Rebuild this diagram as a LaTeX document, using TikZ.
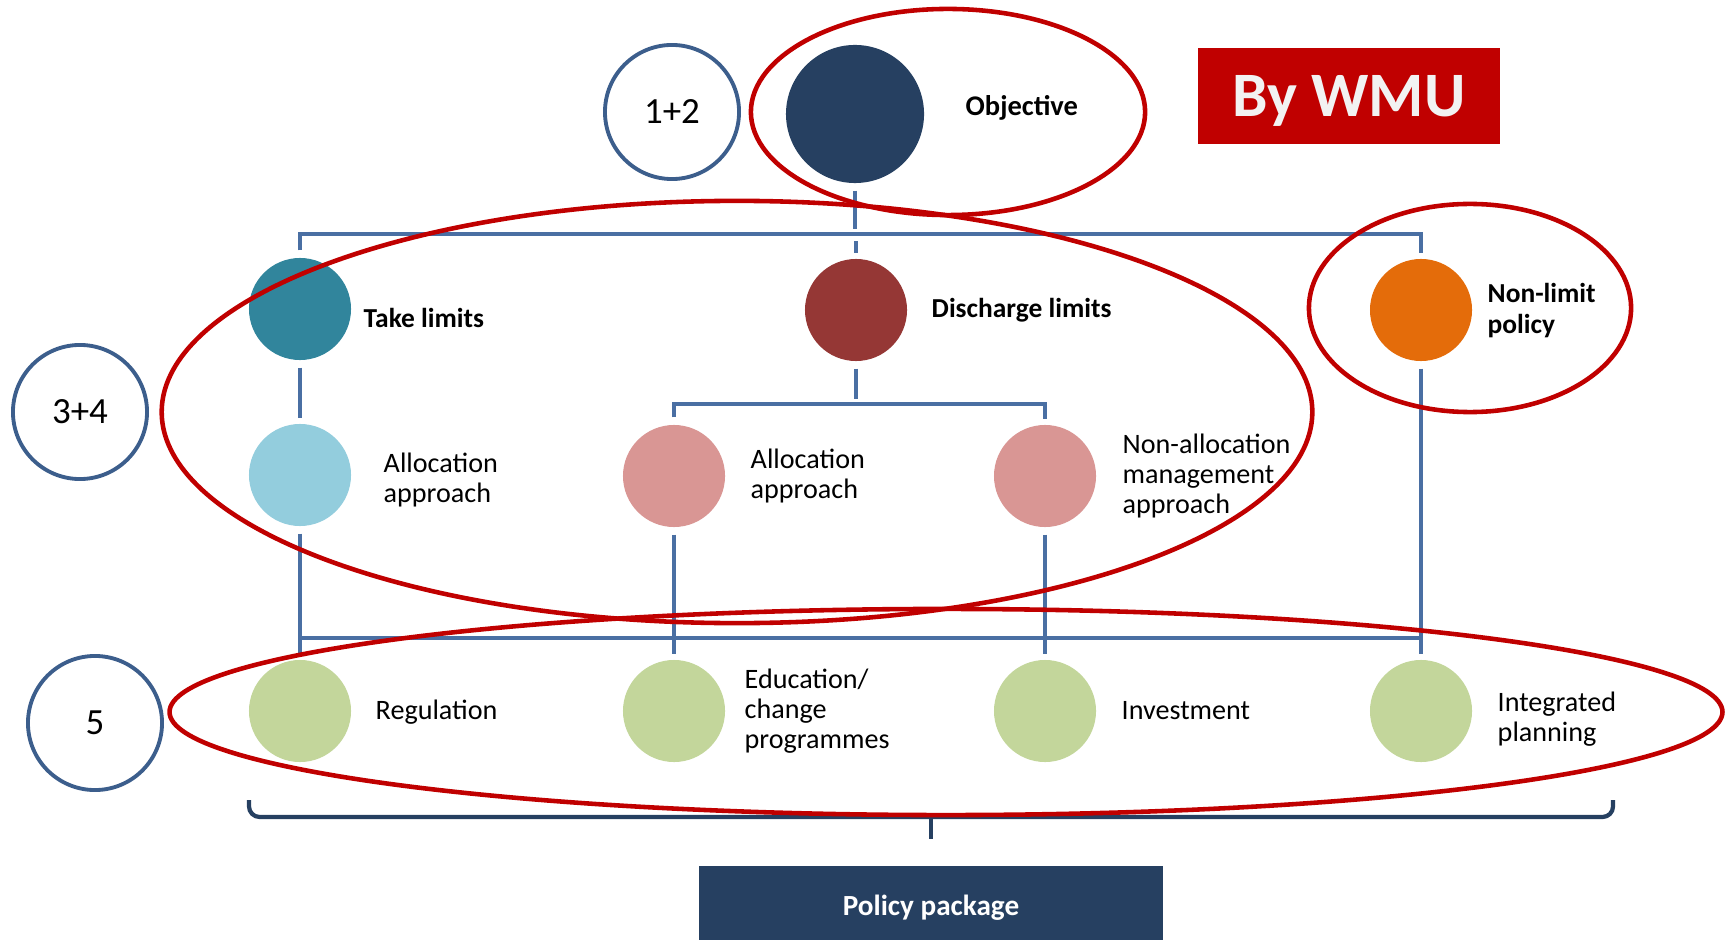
\documentclass[tikz,border=0pt]{standalone}
\usepackage{fontspec}
\setmainfont{Carlito}
\usetikzlibrary{positioning}
\definecolor{navy}{HTML}{264061}
\definecolor{lineblue}{HTML}{4A6FA3}
\definecolor{numblue}{HTML}{3C5E8C}
\definecolor{tealc}{HTML}{31859C}
\definecolor{discc}{HTML}{953735}
\definecolor{orangec}{HTML}{E46C0A}
\definecolor{lbluec}{HTML}{93CDDD}
\definecolor{pinkc}{HTML}{D99694}
\definecolor{greenc}{HTML}{C3D69B}
\definecolor{redc}{HTML}{C00000}
\tikzset{
  dot/.style={circle, draw=none, inner sep=0pt, minimum size=1.02cm},
  bigdot/.style={circle, draw=none, inner sep=0pt, minimum size=1.38cm},
  numcirc/.style={circle, draw=numblue, line width=1.1pt, inner sep=0pt, minimum size=1.34cm, font=\fontsize{10.5}{12}\selectfont},
  lbl/.style={anchor=west, inner sep=0pt, align=left, font=\fontsize{8}{8.6}\selectfont},
  blbl/.style={lbl, font=\fontsize{7.8}{8.8}\selectfont\bfseries},
  conn/.style={draw=lineblue, line width=1.25pt, shorten <=0.07cm, shorten >=0.05cm},
  redring/.style={draw=redc, line width=1.3pt},
  bracketline/.style={draw=navy, line width=1.2pt},
}
\begin{document}
\begin{tikzpicture}[x=0.01cm,y=-0.01cm]
\useasboundingbox (0,0) rectangle (1725,940);
% number circles
\node[numcirc] (n12) at (672,112) {1+2};
\node[numcirc] (n34) at (80,412) {3+4};
\node[numcirc] (n5) at (95,723) {5};
% main dots
\node[bigdot, fill=navy] (obj) at (855,114) {};
\node[blbl, font=\fontsize{8.1}{8.8}\selectfont\bfseries] (objl) at (965,108) {Objective};
\node[dot, fill=tealc] (take) at (300,309) {};
\node[blbl] (takel) at (363,318) {Take limits};
\node[dot, fill=discc] (disch) at (856,310) {};
\node[blbl] (dischl) at (931,310) {Discharge limits};
\node[dot, fill=orangec] (nonlim) at (1421,310) {};
\node[blbl] (nonliml) at (1487,311) {Non-limit\\policy};
\node[dot, fill=lbluec] (alloc1) at (300,475) {};
\node[lbl] (alloc1l) at (383,480) {Allocation\\approach};
\node[dot, fill=pinkc] (alloc2) at (674,476) {};
\node[lbl] (alloc2l) at (750,476) {Allocation\\approach};
\node[dot, fill=pinkc] (nonalloc) at (1045,476) {};
\node[lbl] (nonallocl) at (1122,476) {Non-allocation\\management\\approach};
\node[dot, fill=greenc] (reg) at (300,711) {};
\node[lbl] (regl) at (375,712) {Regulation};
\node[dot, fill=greenc] (edu) at (674,711) {};
\node[lbl] (edul) at (744,711) {Education/\\change\\programmes};
\node[dot, fill=greenc] (inv) at (1045,711) {};
\node[lbl] (invl) at (1121,711) {Investment};
\node[dot, fill=greenc] (integ) at (1421,711) {};
\node[lbl] (integl) at (1497,719) {Integrated\\planning};
% bars
\coordinate (tb) at (0,234);
\coordinate (mb) at (0,404);
\coordinate (lb) at (0,638);
\draw[conn] (obj.south) -- (obj |- tb);
\draw[conn] (take.north) -- (take |- tb) -- (nonlim |- tb) -- (nonlim.north);
\draw[conn] (disch |- tb) -- (disch.north);
\draw[conn] (take.south) -- (alloc1.north);
\draw[conn] (disch.south) -- (disch |- mb);
\draw[conn] (alloc2.north) -- (alloc2 |- mb) -- (nonalloc |- mb) -- (nonalloc.north);
\draw[conn] (alloc1.south) -- (reg.north);
\draw[conn] (alloc2.south) -- (edu.north);
\draw[conn] (nonalloc.south) -- (inv.north);
\draw[conn] (nonlim.south) -- (integ.north);
\draw[draw=lineblue, line width=1.25pt] (reg |- lb) -- (integ |- lb);
% bracket
\coordinate (bl) at (249,800);
\coordinate (br) at (1613,800);
\coordinate (bm) at (931,817);
\coordinate (bt) at (931,839);
\draw[bracketline, rounded corners=3pt] (bl) -- (bl |- bm) -- (br |- bm) -- (br);
\draw[bracketline] (bm) -- (bt);
% policy package
\node[fill=navy, minimum width=4.64cm, minimum height=0.78cm, inner sep=0pt, text depth=0pt, text=white, font=\fontsize{8.3}{10}\selectfont\bfseries] (pp) at (931,905) {Policy package};
% By WMU
\node[fill=redc, minimum width=3.02cm, minimum height=0.96cm, inner sep=0pt, text depth=0pt, text=white!95!black, font=\fontsize{18}{20}\selectfont\bfseries] (wmu) at (1349,96) {By WMU};
% red ellipses
\draw[redring] (948,112) ellipse [x radius=1.97cm, y radius=1.03cm];
\draw[redring] (737,412) ellipse [x radius=5.75cm, y radius=2.11cm];
\draw[redring] (1470,308) ellipse [x radius=1.61cm, y radius=1.04cm];
\draw[redring] (946,712) ellipse [x radius=7.76cm, y radius=1.03cm];
\end{tikzpicture}
\end{document}
